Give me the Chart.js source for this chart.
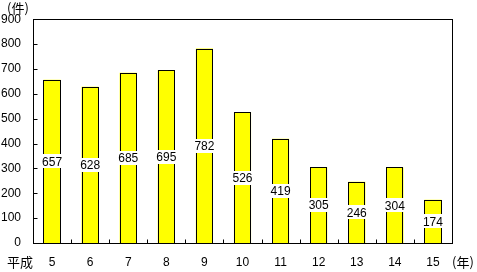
<!DOCTYPE html>
<html><head><meta charset="utf-8">
<script src="https://cdn.jsdelivr.net/npm/chart.js@4/dist/chart.umd.min.js"></script>
<style>html,body{margin:0;padding:0;background:#fff}#wrap{width:477px;height:272px}</style>
</head><body><div id="wrap"><canvas id="c" width="477" height="272"></canvas></div>
<script>
const categories = ["5","6","7","8","9","10","11","12","13","14","15"];
const values = [657,628,685,695,782,526,419,305,246,304,174];
const yTicks = [0,100,200,300,400,500,600,700,800,900];
const yUnit = "(件)";
const xUnit = "(年)";
const eraLabel = "平成";

const NUMFONT = '12px "Liberation Sans", Arial, sans-serif';
const JPFONT = '13px "Noto Sans CJK JP", sans-serif';

const deco = {
  id: 'deco',
  afterDatasetsDraw(chart) {
    const ctx = chart.ctx, a = chart.chartArea;
    const xs = chart.scales.x, ys = chart.scales.y;
    ctx.save();
    ctx.strokeStyle = '#000'; ctx.lineWidth = 1;
    const meta = chart.getDatasetMeta(0);
    // crisp bar outlines
    meta.data.forEach(bar => {
      const l = Math.round(bar.x - bar.width/2), r = Math.round(bar.x + bar.width/2);
      const t = Math.round(bar.y), b = Math.round(bar.base);
      ctx.fillStyle = '#ffff00';
      ctx.fillRect(l, t, r - l, b - t);
      ctx.strokeRect(l + 0.5, t + 0.5, r - l - 1, b - t);
    });
    const L = Math.round(a.left)+0.5, R = Math.round(a.right)+0.5, T = Math.round(a.top)+0.5, B = Math.round(a.bottom)+0.5;
    ctx.strokeRect(L, T, R-L, B-T);
    ctx.beginPath();
    yTicks.forEach(v => { const y = Math.round(ys.getPixelForValue(v))+0.5; ctx.moveTo(L, y); ctx.lineTo(L+4, y); });
    for (let i = 1; i < categories.length; i++) {
      const x = Math.round((xs.getPixelForValue(i-1)+xs.getPixelForValue(i))/2)+0.5;
      ctx.moveTo(x, B); ctx.lineTo(x, B-4);
    }
    ctx.stroke();
    ctx.font = NUMFONT; ctx.textAlign = 'center'; ctx.textBaseline = 'middle';
    meta.data.forEach((bar, i) => {
      const x = bar.x, y = (bar.y + bar.base)/2;
      const t = String(values[i]);
      const w = ctx.measureText(t).width + 4;
      ctx.fillStyle = '#fff';
      ctx.fillRect(Math.round(x - w/2), Math.round(y - 7), Math.round(w), 14);
      ctx.fillStyle = '#000';
      ctx.fillText(t, x, y+1);
    });
    ctx.font = JPFONT; ctx.fillStyle = '#000';
    ctx.textAlign = 'left'; ctx.textBaseline = 'middle';
    ctx.fillText(yUnit, 7, 8);
    ctx.fillText(eraLabel, 7, 262);
    ctx.fillText(xUnit, 452, 262);
    ctx.restore();
  }
};

new Chart(document.getElementById('c'), {
  type: 'bar',
  data: { labels: categories, datasets: [{ data: values, backgroundColor: '#ffff00', borderWidth: 0, barPercentage: 0.45, categoryPercentage: 1 }] },
  options: {
    responsive: false, animation: false, devicePixelRatio: 1,
    layout: { padding: { left: 0, right: 25, top: 19, bottom: 0 } },
    plugins: { legend: { display: false }, tooltip: { enabled: false } },
    scales: {
      x: {
        grid: { display: false, drawTicks: false }, border: { display: false },
        ticks: { color: '#000', font: { family: '"Liberation Sans", Arial, sans-serif', size: 12 }, padding: 12, maxRotation: 0 },
        afterFit(s) { s.height = 29; }
      },
      y: {
        min: 0, max: 900,
        grid: { display: false, drawTicks: false }, border: { display: false },
        afterBuildTicks(s) { s.ticks = yTicks.map(v => ({ value: v })); },
        ticks: { color: '#000', font: { family: '"Liberation Sans", Arial, sans-serif', size: 12 }, padding: 12 },
        afterFit(s) { s.width = 33; }
      }
    }
  },
  plugins: [deco]
});
</script></body></html>
